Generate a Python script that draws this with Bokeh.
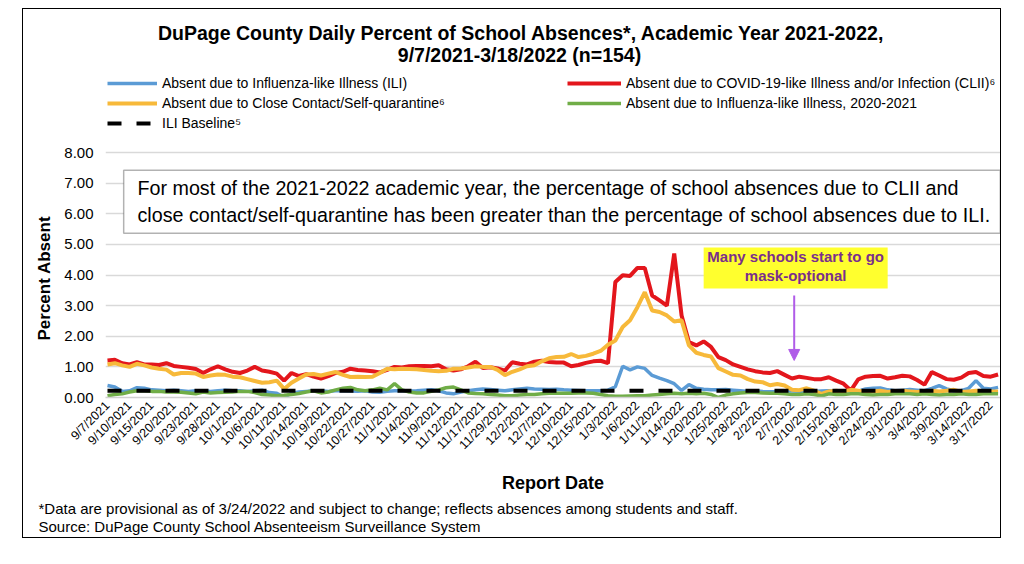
import numpy as np
from bokeh.plotting import figure
from bokeh.models import (FixedTicker, NumeralTickFormatter, Range1d, Legend, LegendItem,
                          BoxAnnotation, Label, Arrow, NormalHead, Title)
from bokeh.embed import file_html
from bokeh.resources import INLINE

tick_labels = ["9/7/2021", "9/10/2021", "9/15/2021", "9/20/2021", "9/23/2021", "9/28/2021",
               "10/1/2021", "10/6/2021", "10/11/2021", "10/14/2021", "10/19/2021", "10/22/2021",
               "10/27/2021", "11/1/2021", "11/4/2021", "11/9/2021", "11/12/2021", "11/17/2021",
               "11/29/2021", "12/2/2021", "12/7/2021", "12/10/2021", "12/15/2021", "1/3/2022",
               "1/6/2022", "1/11/2022", "1/14/2022", "1/20/2022", "1/25/2022", "1/28/2022",
               "2/2/2022", "2/7/2022", "2/10/2022", "2/15/2022", "2/18/2022", "2/24/2022",
               "3/1/2022", "3/4/2022", "3/9/2022", "3/14/2022", "3/17/2022"]

ili = [0.39, 0.34, 0.20, 0.22, 0.32, 0.30, 0.25, 0.24, 0.22, 0.24,
       0.22, 0.20, 0.22, 0.22, 0.20, 0.22, 0.24, 0.22, 0.22, 0.20,
       0.22, 0.24, 0.16, 0.14, 0.01, 0.14, 0.18, 0.20, 0.22, 0.22,
       0.20, 0.22, 0.22, 0.21, 0.20, 0.22, 0.18, 0.17, 0.20, 0.22,
       0.22, 0.21, 0.22, 0.24, 0.25, 0.22, 0.15, 0.12, 0.18, 0.22,
       0.25, 0.28, 0.26, 0.24, 0.22, 0.25, 0.28, 0.30, 0.28, 0.27,
       0.26, 0.27, 0.25, 0.24, 0.23, 0.22, 0.22, 0.22, 0.24, 0.35,
       1.02, 0.90, 1.00, 0.95, 0.72, 0.63, 0.55, 0.45, 0.23, 0.42,
       0.30, 0.27, 0.25, 0.25, 0.26, 0.24, 0.22, 0.20, 0.22, 0.20,
       0.19, 0.20, 0.22, 0.21, 0.20, 0.19, 0.20, 0.21, 0.22, 0.20,
       0.22, 0.22, 0.21, 0.28, 0.30, 0.31, 0.25, 0.22, 0.24, 0.26,
       0.24, 0.22, 0.30, 0.39, 0.28, 0.22, 0.22, 0.30, 0.55, 0.30,
       0.28, 0.33]

clii = [1.21, 1.23, 1.12, 1.08, 1.15, 1.08, 1.08, 1.06, 1.12, 1.03,
        1.00, 0.97, 0.93, 0.80, 0.92, 1.02, 0.92, 0.84, 0.80, 0.88,
        1.00, 0.88, 0.84, 0.78, 0.55, 0.80, 0.70, 0.76, 0.68, 0.62,
        0.70, 0.80, 0.84, 0.94, 0.90, 0.88, 0.86, 0.82, 0.90, 1.00,
        0.98, 1.02, 1.03, 1.03, 1.02, 1.05, 0.92, 0.88, 0.92, 1.02,
        1.17, 0.96, 0.99, 0.95, 0.88, 1.15, 1.10, 1.08, 1.17, 1.20,
        1.16, 1.14, 1.14, 1.02, 1.06, 1.13, 1.18, 1.20, 1.12, 3.77,
        3.99, 3.97, 4.23, 4.23, 3.33, 3.17, 3.00, 4.70, 2.68, 1.81,
        1.70, 1.83, 1.65, 1.32, 1.22, 1.08, 1.00, 0.92, 0.86, 0.82,
        0.80, 0.86, 0.74, 0.62, 0.68, 0.64, 0.60, 0.60, 0.66, 0.55,
        0.45, 0.23, 0.59, 0.68, 0.70, 0.71, 0.62, 0.66, 0.71, 0.69,
        0.57, 0.42, 0.83, 0.72, 0.60, 0.58, 0.65, 0.80, 0.83, 0.70,
        0.68, 0.75]

close_contact = [1.08, 1.12, 1.05, 1.00, 1.10, 1.05, 0.98, 0.94, 0.91, 0.75,
                 0.80, 0.80, 0.78, 0.67, 0.72, 0.75, 0.74, 0.68, 0.66, 0.60,
                 0.54, 0.48, 0.50, 0.55, 0.28, 0.48, 0.62, 0.75, 0.77, 0.72,
                 0.78, 0.83, 0.74, 0.67, 0.68, 0.67, 0.68, 0.80, 0.94, 0.92,
                 0.94, 0.93, 0.92, 0.90, 0.87, 0.86, 0.87, 0.94, 0.95, 0.98,
                 1.02, 1.00, 1.00, 0.90, 0.73, 0.84, 0.92, 1.02, 1.05, 1.18,
                 1.28, 1.32, 1.33, 1.42, 1.32, 1.36, 1.43, 1.52, 1.72, 1.86,
                 2.30, 2.52, 2.95, 3.44, 2.84, 2.79, 2.68, 2.48, 2.52, 1.70,
                 1.46, 1.39, 1.34, 0.96, 0.85, 0.74, 0.72, 0.60, 0.52, 0.50,
                 0.40, 0.44, 0.39, 0.25, 0.24, 0.30, 0.22, 0.12, 0.20, 0.22,
                 0.20, 0.25, 0.22, 0.18, 0.20, 0.22, 0.18, 0.20, 0.22, 0.20,
                 0.18, 0.20, 0.22, 0.20, 0.22, 0.25, 0.18, 0.20, 0.22, 0.18,
                 0.20, 0.20]

ili_2020 = [0.06, 0.10, 0.12, 0.18, 0.22, 0.22, 0.20, 0.20, 0.18, 0.18,
            0.17, 0.15, 0.12, 0.18, 0.15, 0.16, 0.17, 0.18, 0.20, 0.20,
            0.16, 0.10, 0.08, 0.06, 0.07, 0.10, 0.13, 0.18, 0.22, 0.15,
            0.18, 0.25, 0.30, 0.33, 0.25, 0.22, 0.25, 0.30, 0.25, 0.45,
            0.25, 0.18, 0.15, 0.15, 0.20, 0.25, 0.32, 0.34, 0.25, 0.15,
            0.13, 0.12, 0.10, 0.08, 0.06, 0.06, 0.08, 0.10, 0.10, 0.12,
            0.14, 0.14, 0.14, 0.14, 0.15, 0.15, 0.14, 0.10, 0.06, 0.04,
            0.04, 0.05, 0.06, 0.06, 0.08, 0.10, 0.12, 0.14, 0.12, 0.14,
            0.12, 0.14, 0.10, 0.00, 0.08, 0.12, 0.15, 0.16, 0.16, 0.15,
            0.14, 0.14, 0.12, 0.10, 0.10, 0.12, 0.10, 0.05, 0.12, 0.10,
            0.10, 0.12, 0.12, 0.10, 0.08, 0.10, 0.10, 0.12, 0.12, 0.12,
            0.10, 0.12, 0.10, 0.08, 0.10, 0.10, 0.12, 0.10, 0.10, 0.12,
            0.12, 0.12]

ili_baseline = 0.22
y_ticks = [0, 1, 2, 3, 4, 5, 6, 7, 8]

x = list(range(len(ili)))
baseline = [ili_baseline] * len(x)

FONT = "Liberation Sans"

# the plot frame reaches up to the top of the figure so that the header
# (title and legend) can be drawn inside it; grid and ticks stop at 8.00
p = figure(width=979, height=530, output_backend="svg", toolbar_location=None,
           x_range=Range1d(-0.27, 121.33), y_range=Range1d(0, 8 * 388 / 245),
           min_border_left=82, min_border_right=2, min_border_top=0, min_border_bottom=142)
p.styles = {"border": "1px solid black", "margin-left": "22px", "margin-top": "8px"}
p.title_location = None
p.outline_line_color = None
p.background_fill_color = "white"

r_ili = p.line(x, ili, line_color="#5b9bd5", line_width=3.5)
r_clii = p.line(x, clii, line_color="#e3161c", line_width=4)
r_cc = p.line(x, close_contact, line_color="#f7b93a", line_width=4)
r_g = p.line(x, ili_2020, line_color="#70ad47", line_width=3.5)
r_b = p.line(x, baseline, line_color="black", line_width=4, line_dash="14 15")

# axes
p.xaxis.ticker = FixedTicker(ticks=list(range(0, 3 * len(tick_labels), 3)))
p.xaxis.major_label_overrides = {i * 3: lab for i, lab in enumerate(tick_labels)}
p.xaxis.major_label_orientation = np.pi / 4
p.xaxis.major_label_text_font = FONT
p.xaxis.major_label_text_font_size = "12.5px"
p.xaxis.major_label_text_color = "black"
p.xaxis.major_label_standoff = 6
p.xaxis.major_tick_line_color = None
p.xaxis.major_tick_out = 0
p.xaxis.major_tick_in = 0
p.xaxis.minor_tick_line_color = None
p.xaxis.axis_line_color = "#d0d0d0"
p.xaxis.axis_line_width = 1.5
p.xaxis.axis_label = "Report Date"
p.xaxis.axis_label_text_font = FONT
p.xaxis.axis_label_text_font_size = "18px"
p.xaxis.axis_label_text_font_style = "bold"
p.xaxis.axis_label_text_color = "black"
p.xaxis.axis_label_standoff = 12

p.yaxis.ticker = FixedTicker(ticks=y_ticks)
p.yaxis.formatter = NumeralTickFormatter(format="0.00")
p.yaxis.major_label_text_font = FONT
p.yaxis.major_label_text_font_size = "15px"
p.yaxis.major_label_text_color = "black"
p.yaxis.major_label_standoff = 12
p.yaxis.major_tick_line_color = None
p.yaxis.major_tick_out = 0
p.yaxis.major_tick_in = 0
p.yaxis.minor_tick_line_color = None
p.yaxis.axis_line_color = None

p.xgrid.grid_line_color = None
p.ygrid.grid_line_color = "#d9d9d9"
p.ygrid.grid_line_width = 1.5

# y axis title, placed beside the 0-8 part of the axis
p.add_layout(Title(text="Percent Absent", align="left", offset=57, standoff=16,
                   text_font=FONT, text_font_size="17px", text_font_style="bold",
                   text_color="black"), "left")

# chart title (screen units, relative to the frame's bottom-left corner)
def slabel(text, sx, sy, size, bold=False, align="left"):
    return Label(x=sx, y=sy, x_units="screen", y_units="screen", text=text,
                 text_font=FONT, text_font_size=size, text_font_style="bold" if bold else "normal",
                 text_align=align, text_baseline="middle", text_color="black")

p.add_layout(slabel("DuPage County Daily Percent of School Absences*, Academic Year 2021-2022,",
                    416, 365, "19.5px", True, "center"))
p.add_layout(slabel("9/7/2021-3/18/2022 (n=154)", 414, 343, "19.5px", True, "center"))

# legend in two columns
leg_kw = dict(border_line_color=None, background_fill_alpha=0, padding=0, margin=0,
              spacing=4, label_height=16, glyph_height=16, label_standoff=5,
              label_text_font=FONT, label_text_font_size="14px",
              label_text_color="black")
legA = Legend(items=[LegendItem(label="Absent due to Influenza-like Illness (ILI)", renderers=[r_ili]),
                     LegendItem(label="Absent due to Close Contact/Self-quarantine\u2076", renderers=[r_cc]),
                     LegendItem(label="ILI Baseline\u2075", renderers=[r_b])],
              location=(2, 266), glyph_width=50, **leg_kw)
legB = Legend(items=[LegendItem(label="Absent due to COVID-19-like Illness and/or Infection (CLII)\u2076", renderers=[r_clii]),
                     LegendItem(label="Absent due to Influenza-like Illness, 2020-2021", renderers=[r_g])],
              location=(462, 286), glyph_width=54, **leg_kw)
p.add_layout(legA)
p.add_layout(legB)

# footnote below the axis
p.add_layout(Title(text="*Data are provisional as of 3/24/2022 and subject to change; reflects absences among students and staff.\n"
                        "Source: DuPage County School Absenteeism Surveillance System",
                   align="left", offset=-67, standoff=4,
                   text_font=FONT, text_font_size="15px", text_font_style="normal",
                   text_line_height=1.1, text_color="black"), "below")

# annotation text box
p.add_layout(BoxAnnotation(left=2.2, right=121.3, bottom=5.36, top=7.42,
                           fill_color="white", fill_alpha=1, line_color="black", line_width=1.5))
p.add_layout(Label(x=4.08, y=6.83, text="For most of the 2021-2022 academic year, the percentage of school absences due to CLII and",
                   text_font=FONT, text_font_size="19.7px", text_baseline="middle", text_color="black"))
p.add_layout(Label(x=4.08, y=5.95, text="close contact/self-quarantine has been greater than the percentage of school absences due to ILI.",
                   text_font=FONT, text_font_size="19.7px", text_baseline="middle", text_color="black"))

# mask-optional callout
p.add_layout(BoxAnnotation(left=81.0, right=106.0, bottom=3.56, top=4.90,
                           fill_color="#ffff2e", fill_alpha=1, line_color=None))
p.add_layout(Label(x=93.5, y=4.61, text="Many schools start to go", text_font=FONT, text_font_size="15px",
                   text_font_style="bold", text_align="center", text_baseline="middle", text_color="#7a2e8c"))
p.add_layout(Label(x=93.5, y=3.99, text="mask-optional", text_font=FONT, text_font_size="15px",
                   text_font_style="bold", text_align="center", text_baseline="middle", text_color="#7a2e8c"))
p.add_layout(Arrow(x_start=93.3, y_start=3.33, x_end=93.3, y_end=1.21,
                   line_color="#b05ce8", line_width=2,
                   end=NormalHead(size=11, fill_color="#b05ce8", line_color="#b05ce8")))

open("out.html", "w").write(file_html(p, INLINE))
